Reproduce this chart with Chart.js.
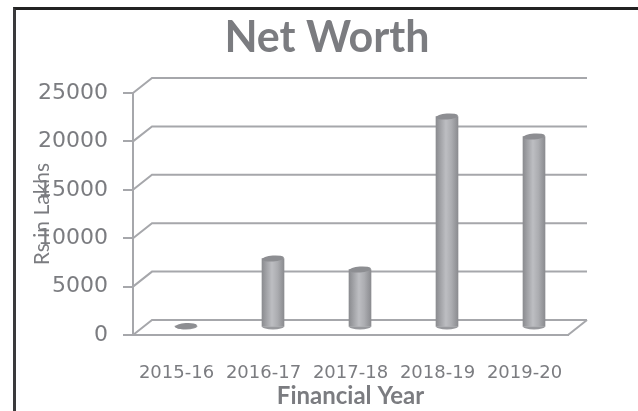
<!DOCTYPE html>
<html>
<head>
<meta charset="utf-8">
<script src="https://cdn.jsdelivr.net/npm/chart.js@4"></script>
<style>
html, body { margin: 0; padding: 0; background: #fff; }
#wrap { position: relative; width: 638px; height: 411px; overflow: hidden; }
#frame { position: absolute; left: 13px; top: 7px; width: 640px; height: 420px; border-left: 3px solid #3a3a3c; border-top: 3px solid #222; box-sizing: border-box; }
#metrics { position: absolute; left: 0; top: 0; }
</style>
</head>
<body>
<div id="wrap">
<div id="frame"></div>
<canvas id="metrics" width="638" height="411"></canvas>
</div>
<script>
const years = ["2015-16", "2016-17", "2017-18", "2018-19", "2019-20"];
const netWorth = [150, 7130, 5990, 21800, 19730];
const yTicks = [0, 5000, 10000, 15000, 20000, 25000];

const gray = "#7b7c80";
const lineGray = "#a6a7ab";
const depthX = 19, depthY = 15;
const barW = 22, capH = 3;

// fake 3D: back wall lines and floor, then shifted cylinders
const wall3d = {
    id: "wall3d",
    afterLayout(chart) {
        // title sits left of the plot centre in the original
        chart.titleBlock.left += 28;
        chart.titleBlock.right += 28;
    },
    beforeDatasetsDraw(chart) {
        const c = chart.ctx, y = chart.scales.y, a = chart.chartArea;
        c.save();
        c.strokeStyle = lineGray;
        c.lineWidth = 2;
        yTicks.forEach(v => {
            const py = y.getPixelForValue(v);
            c.beginPath();
            c.moveTo(a.left, py);
            c.lineTo(a.left + depthX, py - depthY);
            c.lineTo(a.right + depthX, py - depthY);
            c.stroke();
        });
        c.beginPath();
        c.moveTo(a.right, a.bottom);
        c.lineTo(a.right + depthX, a.bottom - depthY);
        c.stroke();
        c.restore();
    },
    beforeDatasetDraw(chart) {
        chart.ctx.save();
        chart.ctx.translate(depthX / 2, -depthY / 2);
    },
    afterDatasetDraw(chart, args) {
        const c = chart.ctx;
        args.meta.data.forEach(bar => {
            c.beginPath();
            c.ellipse(bar.x, bar.base, barW / 2, capH, 0, 0, Math.PI);
            c.fillStyle = "#98999d";
            c.fill();
            c.beginPath();
            c.ellipse(bar.x, bar.y, barW / 2, capH, -0.07, 0, Math.PI * 2);
            c.fillStyle = "#8d8e92";
            c.fill();
        });
        c.restore();
    }
};

function cylinderFill(context) {
    const chart = context.chart;
    const x = chart.scales.x ? chart.scales.x.getPixelForValue(context.dataIndex) : NaN;
    if (!Number.isFinite(x)) return "#a5a6aa";
    const g = chart.ctx.createLinearGradient(x - barW / 2, 0, x + barW / 2, 0);
    g.addColorStop(0, "#8b8c90");
    g.addColorStop(0.45, "#bdbec2");
    g.addColorStop(0.7, "#acadb1");
    g.addColorStop(1, "#8b8c90");
    return g;
}

new Chart(document.getElementById("metrics"), {
    type: "bar",
    data: {
        labels: years,
        datasets: [{
            data: netWorth,
            backgroundColor: cylinderFill,
            barThickness: barW,
            clip: false
        }]
    },
    plugins: [wall3d],
    options: {
        responsive: false,
        animation: false,
        events: [],
        layout: { padding: { left: 30, right: 70, top: 0, bottom: 0 } },
        plugins: {
            legend: { display: false },
            tooltip: { enabled: false },
            title: {
                display: true,
                text: "Net Worth",
                color: gray,
                font: { family: "Lato", size: 43, weight: "bold" },
                padding: { top: 12, bottom: 29.4 }
            }
        },
        scales: {
            x: {
                afterFit(scale) { scale.height = 76; },
                grid: { display: false },
                border: { color: lineGray, width: 2 },
                ticks: { color: gray, font: { family: "DejaVu Sans", size: 18 }, maxRotation: 0, padding: 20 },
                title: {
                    display: true,
                    text: "Financial Year",
                    color: gray,
                    font: { family: "Lato", size: 24, weight: "bold" },
                    padding: { top: 0, bottom: 0 }
                }
            },
            y: {
                min: 0,
                max: 25000,
                afterFit(scale) { scale.width = 103; },
                afterBuildTicks(scale) { scale.ticks = yTicks.map(v => ({ value: v })); },
                grid: { drawOnChartArea: false, drawTicks: true, tickLength: 10, tickColor: lineGray, lineWidth: 2 },
                border: { color: lineGray, width: 2 },
                ticks: { color: gray, font: { family: "DejaVu Sans", size: 22 }, padding: 15, callback: v => String(v) },
                title: {
                    display: true,
                    text: "Rs in Lakhs",
                    color: gray,
                    font: { family: "Lato", size: 21 },
                    padding: { top: 0, bottom: 0 }
                }
            }
        }
    }
});
</script>
</body>
</html>
